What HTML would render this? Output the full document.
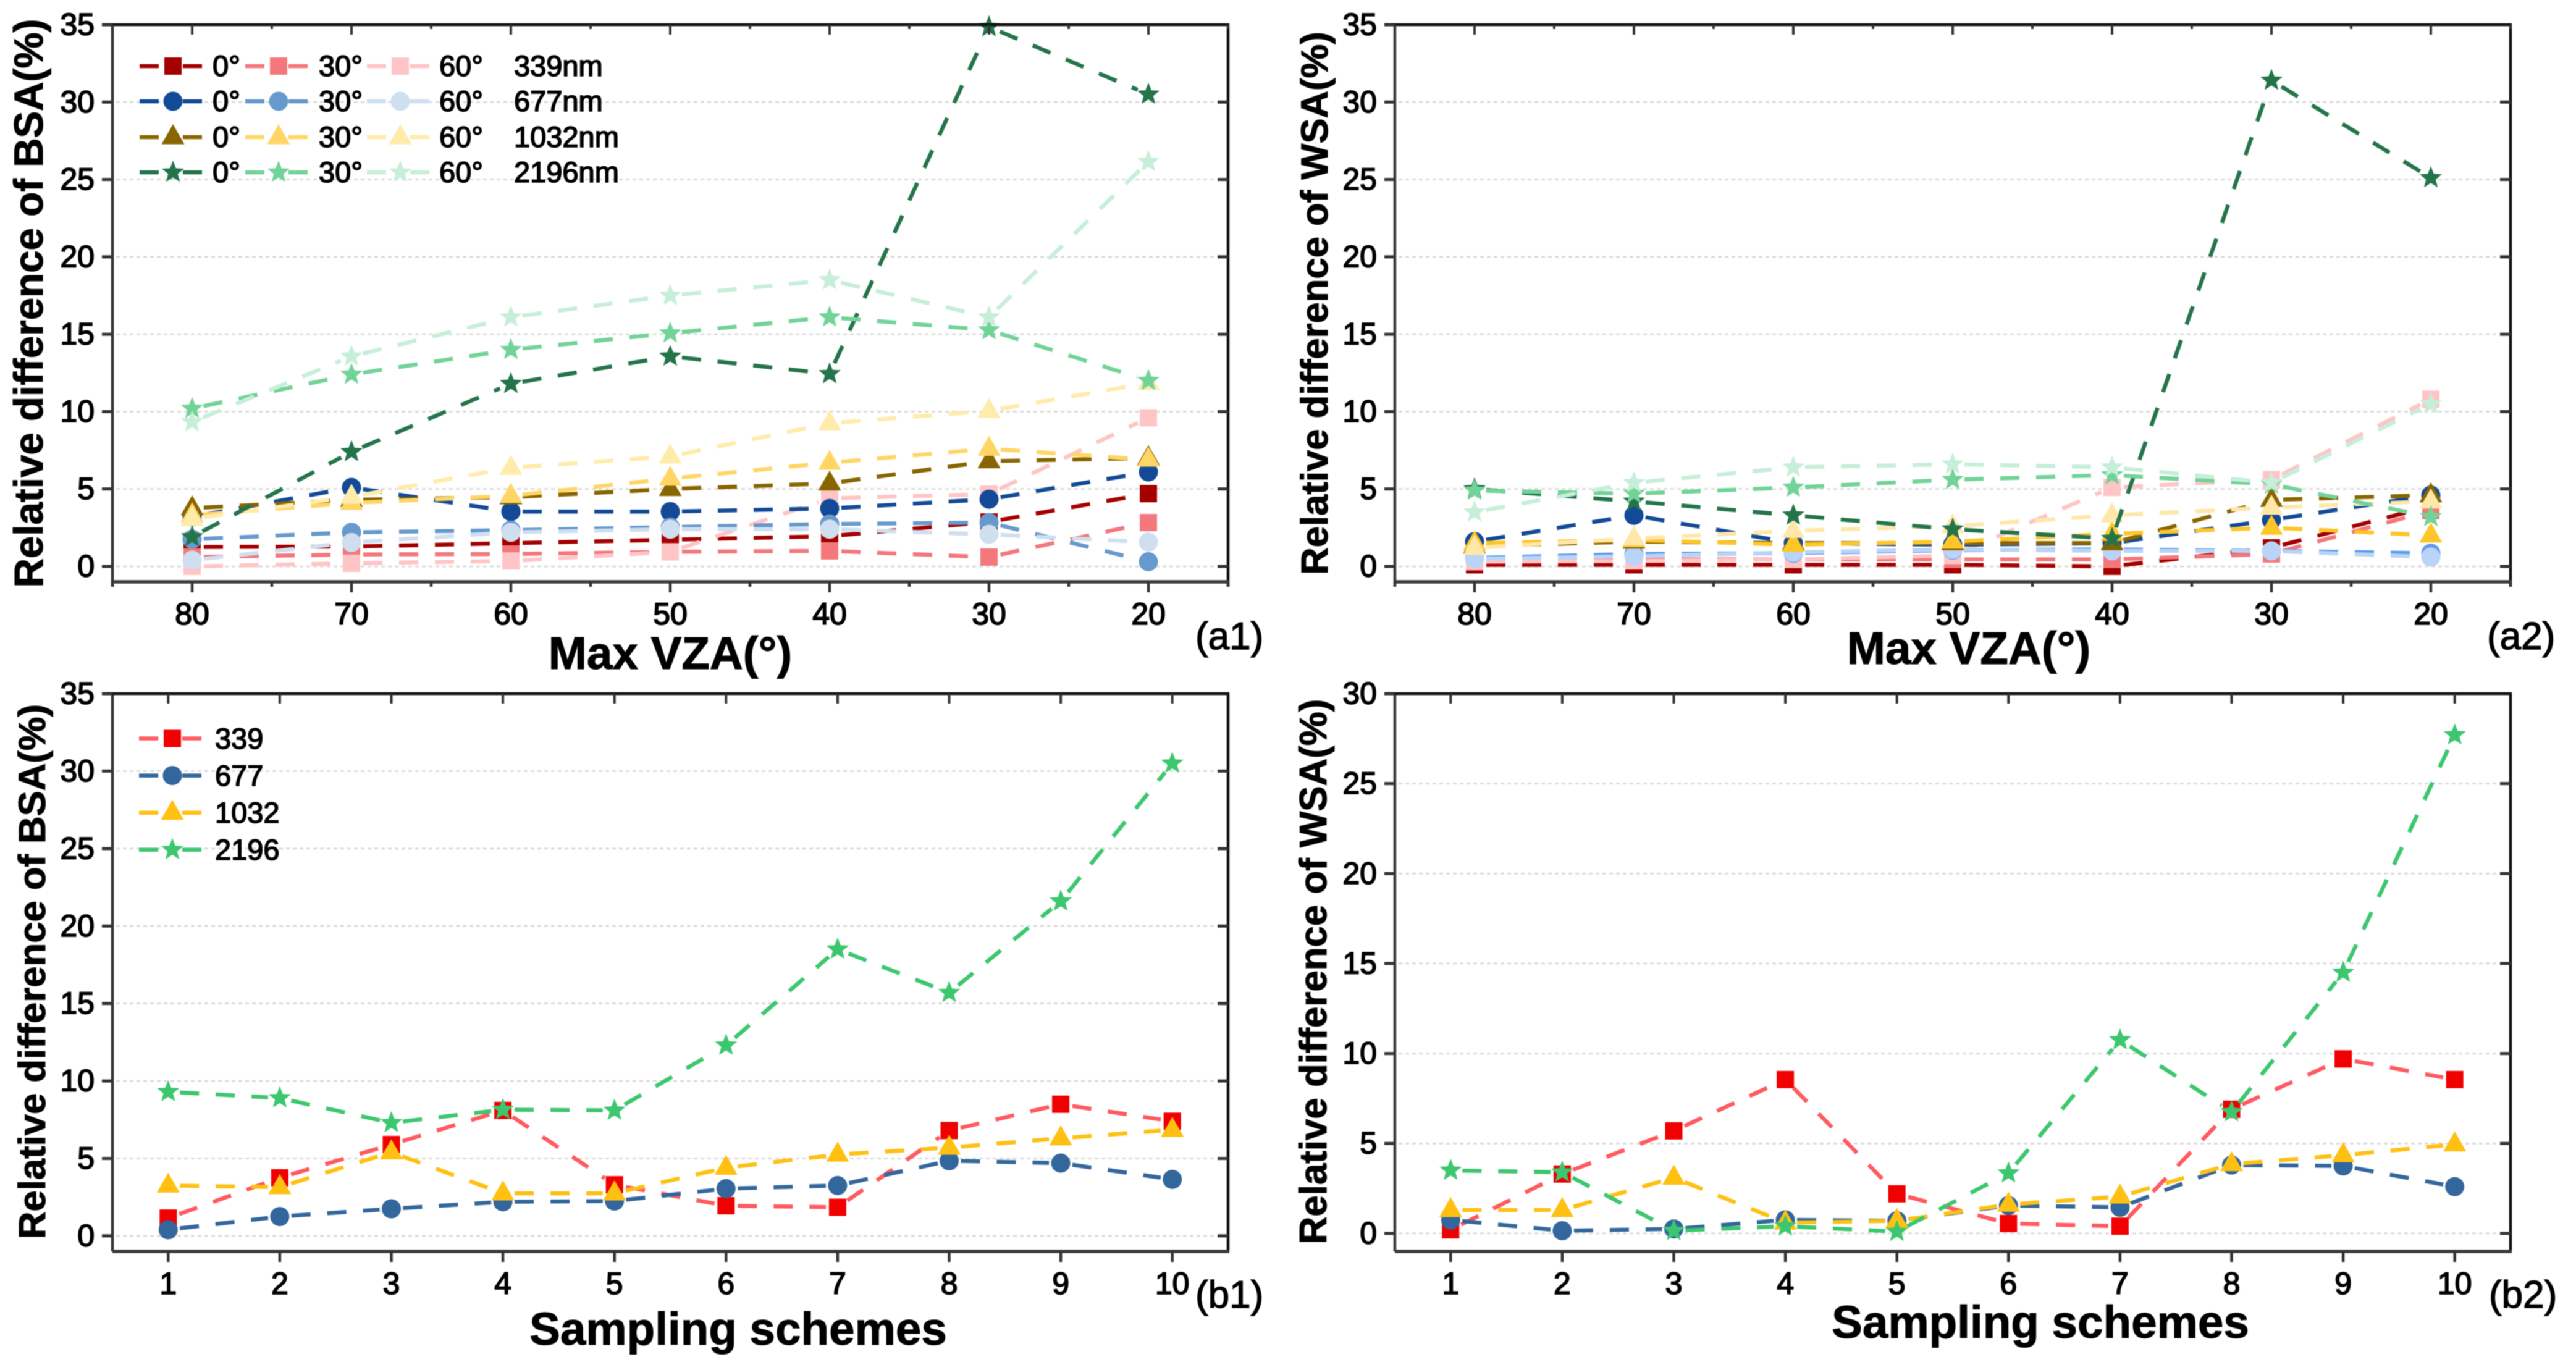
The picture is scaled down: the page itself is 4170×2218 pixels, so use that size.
<!DOCTYPE html>
<html lang="en">
<head>
<meta charset="utf-8">
<title>Relative difference of BSA and WSA</title>
<style>
html,body{margin:0;padding:0;background:#fff;}
#figure{display:block;filter:blur(0.9px);}
text{font-family:"Liberation Sans",sans-serif;fill:#000;}
.t{font-size:50px;stroke:#000;stroke-width:1.7px;}
.l{font-size:47px;stroke:#000;stroke-width:1.6px;}
.xt{font-size:74.6px;font-weight:bold;text-anchor:middle;stroke:#000;stroke-width:1px;}
.yt{font-weight:bold;text-anchor:middle;stroke:#000;stroke-width:1px;}
.p{font-size:62px;stroke:#000;stroke-width:1.4px;}
</style>
</head>
<body>
<svg id="figure" xmlns="http://www.w3.org/2000/svg" width="4170" height="2218" viewBox="0 0 4170 2218">
<rect width="4170" height="2218" fill="#fff"/>
<g id="plots"></g>

<text class="yt" font-size="65.5" transform="translate(69,491) rotate(-90)">Relative difference of BSA(%)</text>
<text class="yt" font-size="61.6" transform="translate(2149,491) rotate(-90)">Relative difference of WSA(%)</text>
<text class="yt" font-size="61.6" transform="translate(73,1573) rotate(-90)">Relative difference of BSA(%)</text>
<text class="yt" font-size="61.8" transform="translate(2147,1573) rotate(-90)">Relative difference of WSA(%)</text>

<text class="xt" x="1085" y="1083">Max VZA(°)</text>
<text class="xt" x="3187" y="1075">Max VZA(°)</text>
<text class="xt" x="1195" y="2177">Sampling schemes</text>
<text class="xt" x="3303" y="2166">Sampling schemes</text>

<text class="p" x="1935" y="1051">(a1)</text>
<text class="p" x="4026" y="1051">(a2)</text>
<text class="p" x="1935" y="2117">(b1)</text>
<text class="p" x="4029" y="2117">(b2)</text>

<g id="legend-a1">
<text class="l" x="344" y="123">0°</text>
<text class="l" x="516" y="123">30°</text>
<text class="l" x="711" y="123">60°</text>
<text class="l" x="832" y="123">339nm</text>
<text class="l" x="344" y="180">0°</text>
<text class="l" x="516" y="180">30°</text>
<text class="l" x="711" y="180">60°</text>
<text class="l" x="832" y="180">677nm</text>
<text class="l" x="344" y="238">0°</text>
<text class="l" x="516" y="238">30°</text>
<text class="l" x="711" y="238">60°</text>
<text class="l" x="832" y="238">1032nm</text>
<text class="l" x="344" y="295">0°</text>
<text class="l" x="516" y="295">30°</text>
<text class="l" x="711" y="295">60°</text>
<text class="l" x="832" y="295">2196nm</text>
</g>
<g id="legend-b1">
<text class="l" x="348" y="1212">339</text>
<text class="l" x="348" y="1272">677</text>
<text class="l" x="348" y="1332">1032</text>
<text class="l" x="348" y="1392">2196</text>
</g>
</svg>

<script>
// ---- categories and tick labels ----
const vzaCategories = [80, 70, 60, 50, 40, 30, 20];
const vzaMinorTicks = [85, 75, 65, 55, 45, 35, 25, 15];
const schemeCategories = [1, 2, 3, 4, 5, 6, 7, 8, 9, 10];
const yTicks35 = [0, 5, 10, 15, 20, 25, 30, 35];
const yTicks30 = [0, 5, 10, 15, 20, 25, 30];

// ---- panel a1: BSA by max VZA ----
const a1_339_0 = [1.25, 1.28, 1.5, 1.72, 1.95, 2.87, 4.7];
const a1_339_30 = [0.6, 0.77, 0.8, 0.94, 1.0, 0.6, 2.83];
const a1_339_60 = [0.0, 0.2, 0.35, 0.94, 4.4, 4.67, 9.6];
const a1_677_0 = [3.2, 5.1, 3.54, 3.54, 3.74, 4.34, 6.1];
const a1_677_30 = [1.75, 2.2, 2.34, 2.54, 2.74, 2.83, 0.3];
const a1_677_60 = [0.4, 1.54, 2.2, 2.4, 2.4, 2.07, 1.57];
const a1_1032_0 = [3.76, 4.3, 4.47, 5.0, 5.36, 6.8, 7.0];
const a1_1032_30 = [3.3, 4.1, 4.56, 5.67, 6.7, 7.6, 6.9];
const a1_1032_60 = [3.07, 4.5, 6.37, 7.1, 9.25, 10.05, 11.85];
const a1_2196_0 = [1.9, 7.4, 11.8, 13.57, 12.44, 34.86, 30.5];
const a1_2196_30 = [10.2, 12.4, 14.0, 15.07, 16.1, 15.27, 12.0];
const a1_2196_60 = [9.33, 13.57, 16.1, 17.5, 18.5, 16.1, 26.15];

// ---- panel a2: WSA by max VZA ----
const a2_339_0 = [0.1, 0.1, 0.1, 0.1, 0.0, 1.2, 3.9];
const a2_339_30 = [0.4, 0.45, 0.45, 0.45, 0.45, 0.8, 3.6];
const a2_339_60 = [0.3, 0.35, 0.45, 0.7, 5.1, 5.6, 10.8];
const a2_677_0 = [1.6, 3.3, 1.5, 1.4, 1.5, 3.0, 4.6];
const a2_677_30 = [0.55, 0.8, 0.85, 1.05, 1.1, 1.0, 0.85];
const a2_677_60 = [0.5, 0.65, 0.9, 1.1, 1.0, 1.0, 0.6];
const a2_1032_0 = [1.3, 1.6, 1.5, 1.5, 1.5, 4.3, 4.6];
const a2_1032_30 = [1.5, 1.7, 1.4, 1.6, 2.1, 2.5, 2.0];
const a2_1032_60 = [1.2, 1.8, 2.3, 2.6, 3.3, 3.8, 4.2];
const a2_2196_0 = [5.0, 4.2, 3.3, 2.4, 1.8, 31.4, 25.1];
const a2_2196_30 = [4.9, 4.7, 5.1, 5.6, 5.9, 5.3, 3.2];
const a2_2196_60 = [3.5, 5.4, 6.4, 6.6, 6.4, 5.4, 10.5];

// ---- panel b1: BSA by sampling scheme ----
const b1_339 = [1.15, 3.75, 5.9, 8.1, 3.3, 1.95, 1.85, 6.8, 8.5, 7.4];
const b1_677 = [0.4, 1.25, 1.75, 2.2, 2.25, 3.05, 3.25, 4.85, 4.7, 3.65];
const b1_1032 = [3.25, 3.15, 5.4, 2.75, 2.75, 4.4, 5.25, 5.7, 6.3, 6.85];
const b1_2196 = [9.3, 8.9, 7.3, 8.15, 8.1, 12.3, 18.5, 15.7, 21.6, 30.5];

// ---- panel b2: WSA by sampling scheme ----
const b2_339 = [0.2, 3.3, 5.7, 8.55, 2.2, 0.55, 0.4, 6.9, 9.7, 8.55];
const b2_677 = [0.75, 0.15, 0.25, 0.75, 0.7, 1.55, 1.45, 3.8, 3.75, 2.6];
const b2_1032 = [1.3, 1.3, 3.1, 0.6, 0.7, 1.6, 2.05, 3.85, 4.35, 4.95];
const b2_2196 = [3.5, 3.4, 0.15, 0.4, 0.1, 3.35, 10.75, 6.75, 14.5, 27.7];

// ---- styles ----
const a1Style = [
  ['339-0','square','#A50000','#A50000'],['339-30','square','#F4777B','#F4777B'],['339-60','square','#FFC4C6','#FFC4C6'],
  ['677-0','circle','#124A97','#124A97'],['677-30','circle','#6699CC','#6699CC'],['677-60','circle','#CFDFF0','#CFDFF0'],
  ['1032-0','triangle','#896500','#896500'],['1032-30','triangle','#FFD666','#FFD666'],['1032-60','triangle','#FFEBAA','#FFEBAA'],
  ['2196-0','star','#24744A','#24744A'],['2196-30','star','#72D398','#72D398'],['2196-60','star','#C6EED8','#C6EED8']
];
const a2Style = [
  ['339-0','square','#A50000','#A50000'],['339-30','square','#F4777B','#F4777B'],['339-60','square','#FFC4C6','#FFC4C6'],
  ['677-0','circle','#124A97','#124A97'],['677-30','circle','#5E9BEE','#5E9BEE'],['677-60','circle','#BAD4F8','#BAD4F8'],
  ['1032-0','triangle','#896500','#896500'],['1032-30','triangle','#FFC629','#FFC629'],['1032-60','triangle','#FFE7AA','#FFE7AA'],
  ['2196-0','star','#24744A','#24744A'],['2196-30','star','#72D398','#72D398'],['2196-60','star','#C6EED8','#C6EED8']
];
const bStyle = [
  ['339','square','#FF5A5F','#F00000'],['677','circle','#33669C','#33669C'],
  ['1032','triangle','#FFC012','#FFC012'],['2196','star','#3CC76E','#3CC76E']
];

const panels = [
  {id:'a1',left:182,right:1988,top:40,bottom:942,xMin:85,xMax:15,yMin:-1,yMax:35,cats:vzaCategories,minor:vzaMinorTicks,yTicks:yTicks35,xBase:1011,style:a1Style,
   series:[a1_339_0,a1_339_30,a1_339_60,a1_677_0,a1_677_30,a1_677_60,a1_1032_0,a1_1032_30,a1_1032_60,a1_2196_0,a1_2196_30,a1_2196_60]},
  {id:'a2',left:2258,right:4064,top:40,bottom:942,xMin:85,xMax:15,yMin:-1,yMax:35,cats:vzaCategories,minor:vzaMinorTicks,yTicks:yTicks35,xBase:1011,style:a2Style,
   series:[a2_339_0,a2_339_30,a2_339_60,a2_677_0,a2_677_30,a2_677_60,a2_1032_0,a2_1032_30,a2_1032_60,a2_2196_0,a2_2196_30,a2_2196_60]},
  {id:'b1',left:182,right:1988,top:1123,bottom:2026,xMin:0.5,xMax:10.5,yMin:-1,yMax:35,cats:schemeCategories,minor:[],yTicks:yTicks35,xBase:2095,style:bStyle,
   series:[b1_339,b1_677,b1_1032,b1_2196]},
  {id:'b2',left:2258,right:4064,top:1123,bottom:2026,xMin:0.5,xMax:10.5,yMin:-1,yMax:30,cats:schemeCategories,minor:[],yTicks:yTicks30,xBase:2095,style:bStyle,
   series:[b2_339,b2_677,b2_1032,b2_2196]}
];

const NS = 'http://www.w3.org/2000/svg';
function xScale(p, v) { return p.left + (v - p.xMin) / (p.xMax - p.xMin) * (p.right - p.left); }
function yScale(p, v) { return p.bottom - (v - p.yMin) / (p.yMax - p.yMin) * (p.bottom - p.top); }

function drawLine(parent, x1, y1, x2, y2, color, width, dash, name) {
  const el = document.createElementNS(NS, 'line');
  el.setAttribute('x1', x1);
  el.setAttribute('y1', y1);
  el.setAttribute('x2', x2);
  el.setAttribute('y2', y2);
  el.setAttribute('stroke', color);
  el.setAttribute('stroke-width', width);
  if (dash) el.setAttribute('stroke-dasharray', dash);
  
  
  parent.appendChild(el);
  return el;
}

function drawMarker(parent, shape, cx, cy, color, name) {
  let el;
  if (shape === 'square') {
    el = document.createElementNS(NS, 'rect');
    el.setAttribute('x', cx - 14);
    el.setAttribute('y', cy - 14);
    el.setAttribute('width', 28);
    el.setAttribute('height', 28);
  } else if (shape === 'circle') {
    el = document.createElementNS(NS, 'circle');
    el.setAttribute('cx', cx);
    el.setAttribute('cy', cy);
    el.setAttribute('r', 15.5);
  } else if (shape === 'triangle') {
    el = document.createElementNS(NS, 'polygon');
    el.setAttribute('points', (cx) + ',' + (cy - 21) + ' ' + (cx - 18.5) + ',' + (cy + 11.5) + ' ' + (cx + 18.5) + ',' + (cy + 11.5));
  } else {
    el = document.createElementNS(NS, 'polygon');
    const pts = [];
    for (let i = 0; i < 10; i++) {
      const r = i % 2 ? 8.2 : 19;
      const a = -Math.PI / 2 + i * Math.PI / 5;
      pts.push((cx + r * Math.cos(a)).toFixed(2) + ',' + (cy + r * Math.sin(a)).toFixed(2));
    }
    el.setAttribute('points', pts.join(' '));
  }
  el.setAttribute('fill', color);
  
  
  parent.appendChild(el);
  return el;
}

function drawText(parent, x, y, str, anchor, name) {
  const el = document.createElementNS(NS, 'text');
  el.setAttribute('x', x);
  el.setAttribute('y', y);
  el.setAttribute('class', 't');
  el.setAttribute('text-anchor', anchor);
  el.textContent = str;
  
  
  parent.appendChild(el);
  return el;
}

function drawPanel(p) {
  const root = document.getElementById('plots');
  const g = document.createElementNS(NS, 'g');
  
  
  root.appendChild(g);

  // grid
  p.yTicks.forEach(function (t) {
    if (t >= p.yMax) return;
    const y = yScale(p, t);
    drawLine(g, p.left + 6, y, p.right - 18, y, '#dcdcdc', 3, '6 5', p.id + '-gridline-' + t);
  });

  // series
  p.series.forEach(function (vals, si) {
    const st = p.style[si];
    const sg = document.createElementNS(NS, 'g');
    
    
    g.appendChild(sg);
    const px = p.cats.map(function (c) { return xScale(p, c); });
    const py = vals.map(function (v) { return yScale(p, v); });
    for (let i = 0; i < vals.length - 1; i++) {
      const dx = px[i + 1] - px[i], dy = py[i + 1] - py[i];
      const len = Math.sqrt(dx * dx + dy * dy);
      if (len <= 40) continue;
      const ux = dx / len, uy = dy / len;
      drawLine(sg, px[i] + ux * 19, py[i] + uy * 19, px[i + 1] - ux * 19, py[i + 1] - uy * 19, st[2], 6.5, '31 27', p.id + '-line-' + st[0] + '-' + p.cats[i]);
    }
    for (let i = 0; i < vals.length; i++) {
      drawMarker(sg, st[1], px[i], py[i], st[3], p.id + '-point-' + st[0] + '-' + p.cats[i]);
    }
  });

  // frame
  const ext = p.minor.length ? 8 : 0;
  drawLine(g, p.left, p.top, p.left, p.bottom + ext, '#333', 4.5, null, p.id + '-left-axis');
  drawLine(g, p.right, p.top, p.right, p.bottom + ext, '#111', 4.5, null, p.id + '-right-axis');
  drawLine(g, p.left - 17, p.top, p.right + 2, p.top, '#111', 4.5, null, p.id + '-top-axis');
  drawLine(g, p.left, p.bottom, p.right + 2, p.bottom, '#3a3a3a', 5.5, null, p.id + '-bottom-axis');

  // y ticks
  p.yTicks.forEach(function (t) {
    const y = yScale(p, t);
    drawLine(g, p.left - 17, y, p.left, y, '#333', 5, null, p.id + '-y-tick-left-' + t);
    if (t < p.yMax) drawLine(g, p.right - 17, y, p.right, y, '#333', 5, null, p.id + '-y-tick-right-' + t);
    drawText(g, p.left - 29, y + 16.5, String(t), 'end', p.id + '-y-tick-label-' + t);
  });

  // x ticks
  p.cats.forEach(function (c) {
    const x = xScale(p, c);
    drawLine(g, x, p.bottom, x, p.bottom + 17, '#333', 4.5, null, p.id + '-x-tick-bottom-' + c);
    drawLine(g, x, p.top, x, p.top + 16, '#333', 4, null, p.id + '-x-tick-top-' + c);
    drawText(g, x, p.xBase, String(c), 'middle', p.id + '-x-tick-label-' + c);
  });
  p.minor.forEach(function (c) {
    const x = xScale(p, c);
    drawLine(g, x, p.bottom, x, p.bottom + 8, '#333', 4.5, null, p.id + '-x-minor-bottom-' + c);
    drawLine(g, x, p.top, x, p.top + 7, '#333', 4, null, p.id + '-x-minor-top-' + c);
  });
}

function legendSymbol(parent, x0, cy, st) {
  const mid = x0 + 54;
  drawLine(parent, x0, cy, x0 + 31, cy, st[2], 6.5, null, 'legend-line-left-' + st[0]);
  drawLine(parent, x0 + 70, cy, x0 + 101, cy, st[2], 6.5, null, 'legend-line-right-' + st[0]);
  drawMarker(parent, st[1], mid, cy, st[3], 'legend-marker-' + st[0]);
}

panels.forEach(drawPanel);

const legendA = document.getElementById('legend-a1');
const legendColsA = [226, 397, 594];
const legendRowsA = [107, 164, 222, 279];
a1Style.forEach(function (st, i) {
  legendSymbol(legendA, legendColsA[i % 3], legendRowsA[Math.floor(i / 3)], st);
});
const legendB = document.getElementById('legend-b1');
const legendRowsB = [1195.5, 1255.6, 1315.7, 1375.7];
bStyle.forEach(function (st, i) {
  legendSymbol(legendB, 225, legendRowsB[i], st);
});
</script>
</body>
</html>
